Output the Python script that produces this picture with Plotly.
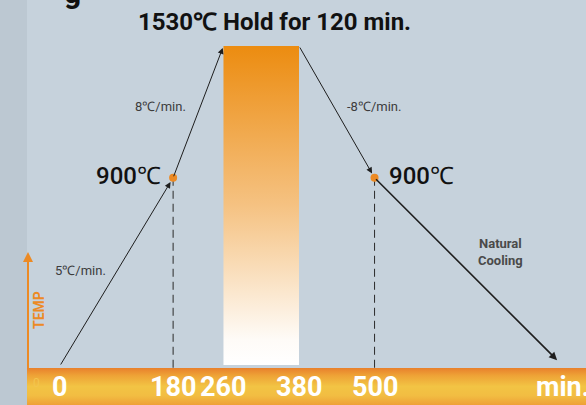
import plotly.graph_objects as go

# ---- data ----
times = [0, 180, 260, 380, 500]          # min
temps = [0, 900, 1530, 1530, 900]        # °C
cooling_end_time = 790
cooling_end_temp = 28
tick_values = [0, 180, 260, 380, 500]
tick_labels = ["0", "180", "260", "380", "500"]
rate_labels = ["5℃/min.", "8℃/min.", "-8℃/min."]
hold_title = "1530℃ Hold for 120 min."

W, H = 586, 405
X_RANGE = [-95.0, 835.9]
Y_RANGE = [-186.5, 1750.0]

def px_to_x(px):
    return X_RANGE[0] + (X_RANGE[1] - X_RANGE[0]) * px / W

def py_to_y(py):
    return Y_RANGE[1] - (Y_RANGE[1] - Y_RANGE[0]) * py / H

BG = "#c6d2dc"
ORANGE = "#ec8a24"
LINE = "#1e1e1e"

fig = go.Figure()

# bottom orange/yellow band (decoration)
bx0, bx1 = px_to_x(27), X_RANGE[1]
by0, by1 = Y_RANGE[0], py_to_y(368)
fig.add_trace(go.Scatter(
    x=[bx0, bx1, bx1, bx0, bx0], y=[by0, by0, by1, by1, by0],
    fill="toself", mode="lines", line=dict(width=0),
    fillgradient=dict(type="vertical", start=by0, stop=by1,
                      colorscale=[[0, "#eea036"], [0.25, "#f2bd42"], [0.5, "#f2c444"],
                                  [0.8, "#eea236"], [1, "#e8802c"]]),
    hoverinfo="skip", showlegend=False))

# hold rectangle with gradient
fig.add_trace(go.Scatter(
    x=[times[2], times[3], times[3], times[2], times[2]],
    y=[py_to_y(365), py_to_y(365), temps[2], temps[3], py_to_y(365)],
    fill="toself", mode="lines", line=dict(width=0),
    fillgradient=dict(type="vertical",
                      colorscale=[[0, "#ffffff"], [0.08, "#fefbf7"], [0.5, "#f5c282"], [1, "#ec8c10"]]),
    hoverinfo="skip", showlegend=False))

# dashed guide lines
for i in (1, 4):
    fig.add_trace(go.Scatter(
        x=[times[i], times[i]], y=[temps[i], py_to_y(368)],
        mode="lines", line=dict(color="#2a2a2a", width=1, dash="8px,5px"),
        hoverinfo="skip", showlegend=False))

# dots at 900 °C
fig.add_trace(go.Scatter(
    x=[times[1], times[4]], y=[temps[1], temps[4]], mode="markers",
    marker=dict(color=ORANGE, size=8), hoverinfo="skip", showlegend=False))

ann = []
# process arrows
segments = [
    (times[0], temps[0], times[1], temps[1], 1.0, 5),
    (times[1], temps[1], times[2], temps[2], 1.0, 2),
    (times[3], temps[3], times[4], temps[4], 1.0, 5),
    (times[4], temps[4], cooling_end_time, cooling_end_temp, 1.6, 0),
]
for x0, y0, x1, y1, w, so in segments:
    ann.append(dict(x=x1, y=y1, ax=x0, ay=y0, xref="x", yref="y", axref="x", ayref="y",
                    text="", showarrow=True, arrowhead=2, arrowsize=1.2 if w < 1.5 else 1.0,
                    arrowwidth=w, arrowcolor=LINE, standoff=so))

def label(px, py, text, font, **kw):
    d = dict(x=px / W, y=1 - py / H, xref="paper", yref="paper", text=text, showarrow=False,
             xanchor="center", yanchor="middle", font=font)
    d.update(kw)
    ann.append(d)

# title
label(274, 22, hold_title, dict(family="Roboto", size=24, color="#111111", weight="bold"))
# cut-off text at top-left
label(72, -8, "g", dict(family="Roboto", size=30, color="#111111", weight="bold"))
# 900 labels
for px in (128, 421):
    label(px, 176, "900℃", dict(family="Roboto", size=24, color="#111111", weight=500))
# rate labels
for txt, px, py in zip(rate_labels, (80, 160, 374), (270, 106, 106)):
    label(px, py, txt, dict(family="Roboto", size=13, color="#3c3c3c"))
label(500, 252, "Natural<br>Cooling", dict(family="Roboto", size=13, color="#4a4a4a", weight="bold"))

# TEMP axis
ann.append(dict(x=28 / W, y=1 - 252 / H, ax=0, ay=118, xref="paper", yref="paper",
                text="", showarrow=True, arrowhead=2, arrowsize=1.0, arrowwidth=2,
                arrowcolor=ORANGE, standoff=0))
label(39, 310, "TEMP", dict(family="Roboto", size=14, color=ORANGE, weight="bold"), textangle=-90)
label(36, 383, "0", dict(family="Roboto", size=12, color="#f3c44e"))

# bottom tick labels
for v, t in zip(tick_values, tick_labels):
    ann.append(dict(x=v, y=1 - 387 / H, xref="x", yref="paper", text=t, showarrow=False,
                    xanchor="center", yanchor="middle",
                    font=dict(family="Roboto", size=27, color="#ffffff", weight="bold")))
label(563, 387, "min.", dict(family="Roboto", size=27, color="#ffffff", weight="bold"))

fig.update_layout(
    width=W, height=H, margin=dict(l=0, r=0, t=0, b=0),
    paper_bgcolor=BG, plot_bgcolor=BG,
    xaxis=dict(range=X_RANGE, visible=False, fixedrange=True),
    yaxis=dict(range=Y_RANGE, visible=False, fixedrange=True),
    annotations=ann,
    shapes=[dict(type="rect", xref="paper", yref="paper", x0=0, x1=27 / W, y0=0, y1=1,
                 fillcolor="#bcc8d2", line=dict(width=0), layer="below")],
    showlegend=False,
)

fig.write_html("out.html", config={"displayModeBar": False},
               post_script="document.body.style.margin='0';document.body.style.overflow='hidden';")
